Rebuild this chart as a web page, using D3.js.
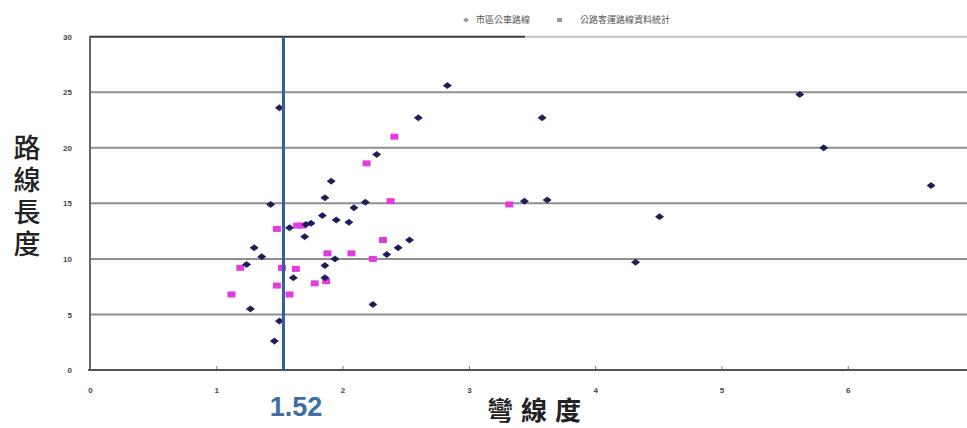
<!DOCTYPE html>
<html><head><meta charset="utf-8">
<script src="https://cdn.jsdelivr.net/npm/d3@7"></script>
<style>body{margin:0;background:#fff;overflow:hidden}</style>
</head><body><svg id="c" width="967" height="428"></svg>
<script>
// ---- data ----
const xTicks = [0, 1, 2, 3, 4, 5, 6];
const yTicks = [0, 5, 10, 15, 20, 25, 30];
const navyX = [2.83,2.60,3.58,2.27,1.91,1.86,2.18,2.09,1.43,3.44,3.62,4.51,5.62,5.81,6.66,4.32,1.84,1.95,2.05,1.75,1.71,1.58,1.70,2.53,2.44,2.35,1.30,1.36,1.94,1.24,1.86,1.61,1.86,2.24,1.27,1.50,1.50,1.46];
const navyY = [25.6,22.7,22.7,19.4,17.0,15.5,15.1,14.6,14.9,15.2,15.3,13.8,24.8,20.0,16.6,9.7,13.9,13.5,13.3,13.2,13.1,12.8,12.0,11.7,11.0,10.4,11.0,10.2,10.0,9.5,9.4,8.3,8.3,5.9,5.5,4.4,23.6,2.6];
const pinkX = [2.41,2.19,2.38,3.32,2.32,2.07,1.88,2.24,1.48,1.64,1.68,1.19,1.52,1.63,1.78,1.87,1.48,1.12,1.58];
const pinkY = [21.0,18.6,15.2,14.9,11.7,10.5,10.5,10.0,12.7,13.0,13.0,9.2,9.2,9.1,7.8,8.0,7.6,6.8,6.8];
const threshold = 1.52;
const thresholdLabel = "1.52";
const legendLabels = ["市區公車路線", "公路客運路線資料統計"];
const xTitle = "彎線度";
const yTitle = "路線長度";

// ---- chart ----
const svg = d3.select("#c");
const x = d3.scaleLinear().domain([0, 7]).range([90, 974]);
const y = d3.scaleLinear().domain([0, 30]).range([370, 36.7]);
const W = 967;

// grid lines
svg.append("g").selectAll("line").data(yTicks.filter(v => v > 0 && v < 30)).join("line")
  .attr("x1", x(0)).attr("x2", W).attr("y1", d => y(d)).attr("y2", d => y(d))
  .attr("stroke", "#8e8e8e").attr("stroke-width", 2);
// top border (dark part, then lighter)
svg.append("line").attr("x1", x(0)).attr("x2", 525).attr("y1", y(30)).attr("y2", y(30))
  .attr("stroke", "#3a3a3a").attr("stroke-width", 2);
svg.append("line").attr("x1", 525).attr("x2", W).attr("y1", y(30)).attr("y2", y(30))
  .attr("stroke", "#c4c4c4").attr("stroke-width", 2);

// x axis
const gx = svg.append("g").attr("transform", `translate(0,${y(0)})`)
  .call(d3.axisBottom(x).tickValues(xTicks).tickSize(-4).tickPadding(17).tickFormat(d3.format("d")));
gx.select(".domain").remove();
gx.selectAll(".tick line").attr("stroke", "#777");
gx.selectAll("text").attr("font-size", 8).attr("font-weight", "bold")
  .attr("font-family", "Liberation Sans, Arial, sans-serif").attr("fill", "#444");
svg.append("line").attr("x1", x(0) - 2).attr("x2", W).attr("y1", y(0)).attr("y2", y(0))
  .attr("stroke", "#555").attr("stroke-width", 2);

// y axis
const gy = svg.append("g").attr("transform", `translate(${x(0)},0)`)
  .call(d3.axisLeft(y).tickValues(yTicks).tickSize(0).tickPadding(18).tickFormat(d3.format("d")));
gy.select(".domain").remove();
gy.selectAll("text").attr("font-size", 8).attr("font-weight", "bold")
  .attr("font-family", "Liberation Sans, Arial, sans-serif").attr("fill", "#444");
svg.append("line").attr("x1", x(0)).attr("x2", x(0)).attr("y1", y(30) - 1).attr("y2", y(0))
  .attr("stroke", "#666").attr("stroke-width", 2);

// points
const navy = navyX.map((v, i) => ({x: v, y: navyY[i]}));
const pink = pinkX.map((v, i) => ({x: v, y: pinkY[i]}));
svg.append("g").selectAll("rect").data(pink).join("rect")
  .attr("x", d => x(d.x) - 4).attr("y", d => y(d.y) - 3)
  .attr("width", 8).attr("height", 6).attr("fill", "#e03ce0");
svg.append("g").selectAll("path").data(navy).join("path")
  .attr("d", "M-4,0L0,-3L4,0L0,3Z")
  .attr("transform", d => `translate(${x(d.x)},${y(d.y)})`)
  .attr("fill", "#1c1c58").attr("stroke", "#1c1c58").attr("stroke-width", 0.8);

// threshold line
svg.append("line").attr("x1", x(threshold) + 1.5).attr("x2", x(threshold) + 1.5)
  .attr("y1", y(30)).attr("y2", y(0))
  .attr("stroke", "#2f609a").attr("stroke-width", 3);
svg.append("text").attr("x", x(threshold) + 14).attr("y", 416)
  .attr("text-anchor", "middle").attr("font-size", 27).attr("font-weight", "bold")
  .attr("font-family", "Liberation Sans, Arial, sans-serif").attr("fill", "#3e6ea3")
  .text(thresholdLabel);

// legend
const lg = svg.append("g").attr("font-family", "Noto Sans CJK TC, sans-serif").attr("font-size", 9).attr("fill", "#555");
lg.append("path").attr("d", "M-3,0L0,-2.5L3,0L0,2.5Z").attr("transform", "translate(466,20)").attr("fill", "#999");
lg.append("text").attr("x", 476).attr("y", 23).text(legendLabels[0]);
lg.append("rect").attr("x", 557).attr("y", 18).attr("width", 5).attr("height", 4).attr("fill", "#999");
lg.append("text").attr("x", 580).attr("y", 23).text(legendLabels[1]);

// axis titles
svg.append("text").attr("x", 487).attr("y", 420)
  .attr("font-size", 26).attr("font-weight", "bold").attr("letter-spacing", 8)
  .attr("font-family", "Noto Sans CJK TC, sans-serif").attr("fill", "#222")
  .text(xTitle);
svg.append("text").attr("x", 27).attr("y", 134)
  .style("writing-mode", "vertical-rl").attr("letter-spacing", 5)
  .attr("font-size", 27).attr("font-weight", 500)
  .attr("font-family", "Noto Sans CJK TC, sans-serif").attr("fill", "#222")
  .text(yTitle);
</script></body></html>
